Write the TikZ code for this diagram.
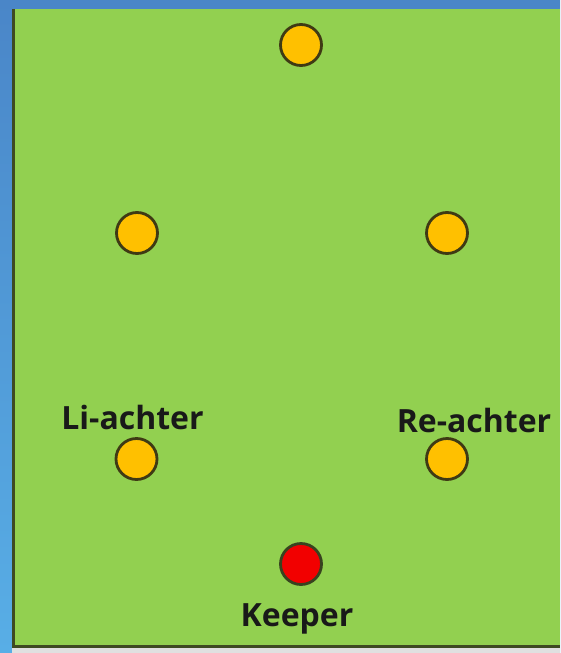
\documentclass[tikz,border=0pt]{standalone}
\usepackage{fontspec}
\setmainfont{Open Sans}
\definecolor{field}{HTML}{92D050}
\definecolor{edge}{HTML}{3E4A22}
\definecolor{gold}{HTML}{FFC000}
\definecolor{ring}{HTML}{3F3A14}
\definecolor{bluetop}{HTML}{4A86C8}
\definecolor{bluebot}{HTML}{58AEE6}
\begin{document}
\begin{tikzpicture}[x=1pt,y=-1pt,
  player/.style={circle,draw=ring,line width=2.8pt,fill=gold,minimum size=41pt,inner sep=0pt},
  keeper/.style={player,fill=red!95!black,draw=edge!90!black},
  lbl/.style={anchor=base,font=\fontsize{32}{32}\selectfont\bfseries,text=black!90,inner sep=0pt}]
\useasboundingbox (0,0) rectangle (560,653);
% background
\shade[top color=bluetop,bottom color=bluebot] (0,0) rectangle (560,653);
\fill[black!12] (12,648) rectangle (560,653);
\fill[field] (12,9) rectangle (560,648);
\draw[edge,line width=2.5pt] (13.25,9) -- (13.25,646.5) -- (560,646.5);
% players
\node[player] (top) at (301,45) {};
\node[player] (ml) at (137,233) {};
\node[player] (mr) at (447,233) {};
\node[player] (bl) at (136.5,459) {};
\node[player] (br) at (447,459) {};
\node[keeper] (gk) at (301,564) {};
% labels
\node[lbl] (lli) at (132.5,429) {Li-achter};
\node[lbl] (lre) at (474,432) {Re-achter};
\node[lbl] (lgk) at (297,626) {Keeper};
\end{tikzpicture}
\end{document}
